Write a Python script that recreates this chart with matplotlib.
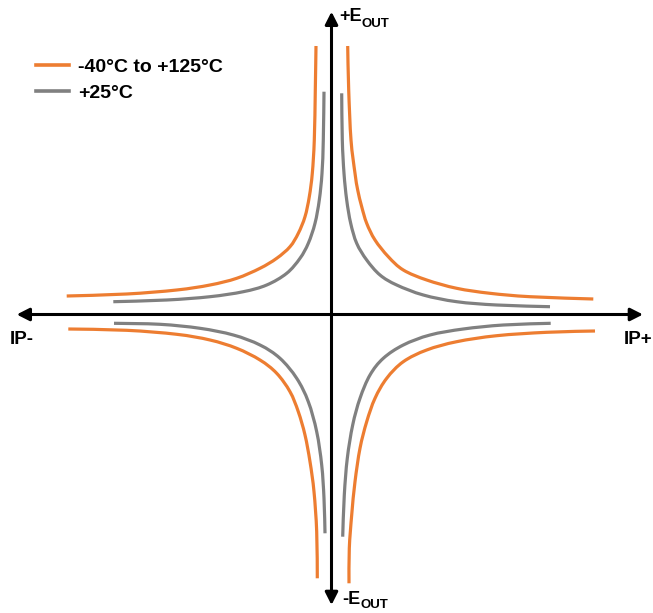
import matplotlib
matplotlib.use("Agg")
import matplotlib.pyplot as plt
from matplotlib.path import Path
from matplotlib.patches import PathPatch

plt.rcParams['font.family'] = ['Liberation Sans', 'DejaVu Sans']
plt.rcParams['font.weight'] = 'bold'

# Data (x/y in chart units, origin at the axis crossing)
orange_color = '#ED7D31'
gray_color = '#808080'
legend_labels = ['-40°C to +125°C', '+25°C']

# -40C to +125C band, one branch per quadrant
wide_q1_x = [16.2, 17.2, 19.5, 23.5, 26.2, 30.2, 35.2, 43.5, 56.8, 71.8, 95.2, 125.2, 158.5, 198.5, 261.8]
wide_q1_y = [268.5, 224.5, 174.5, 141.2, 124.5, 107.8, 91.2, 74.5, 57.8, 44.5, 34.5, 26.2, 21.2, 17.8, 15.5]
wide_q2_x = [-15.5, -16.2, -17.2, -19.2, -22.2, -26.5, -33.2, -41.5, -54.8, -71.5, -94.8, -121.5, -154.8, -204.8, -264.8]
wide_q2_y = [268.5, 224.5, 174.5, 141.2, 117.8, 97.8, 81.2, 67.8, 56.2, 46.2, 36.2, 29.5, 24.5, 20.5, 18.5]
wide_q3_x = [-263.2, -204.8, -154.8, -121.5, -94.8, -71.5, -54.8, -41.5, -33.2, -26.5, -21.5, -17.5, -14.8, -14.2]
wide_q3_y = [-14.5, -15.8, -19.8, -25.5, -33.8, -45.5, -58.8, -77.2, -97.2, -120.5, -147.2, -177.2, -217.2, -263.8]
wide_q4_x = [263.5, 215.2, 165.2, 125.2, 95.2, 71.8, 55.2, 43.5, 35.2, 28.5, 23.5, 20.2, 17.8, 17.5]
wide_q4_y = [-16.5, -17.8, -21.2, -27.2, -35.5, -47.2, -63.8, -83.8, -107.2, -133.8, -167.2, -200.5, -233.8, -268.8]

# +25C
room_q1_x = [10.2, 10.8, 12.5, 15.2, 19.2, 25.2, 35.2, 48.5, 65.2, 91.8, 125.2, 165.2, 218.5]
room_q1_y = [221.2, 174.5, 141.2, 114.5, 91.2, 71.2, 54.5, 39.5, 29.5, 19.5, 12.8, 9.5, 7.8]
room_q2_x = [-7.5, -8.2, -9.5, -12.2, -16.5, -23.2, -31.5, -44.8, -64.8, -88.2, -121.5, -164.8, -218.2]
room_q2_y = [222.8, 174.5, 141.2, 114.5, 91.2, 71.2, 56.2, 41.2, 29.5, 22.8, 17.8, 14.5, 12.8]
room_q3_x = [-217.5, -171.5, -131.5, -98.2, -71.5, -51.5, -34.8, -23.2, -14.8, -9.8, -7.5, -6.5]
room_q3_y = [-8.8, -9.8, -13.8, -20.5, -30.5, -43.8, -63.8, -87.2, -117.2, -150.5, -183.8, -218.8]
room_q4_x = [219.2, 171.8, 131.8, 98.5, 71.8, 51.8, 38.5, 28.5, 21.2, 15.8, 12.8, 11.2]
room_q4_y = [-8.8, -10.5, -14.5, -20.5, -30.5, -43.8, -60.5, -83.8, -110.5, -143.8, -180.5, -222.2]


def smooth_path(xs, ys):
    # smooth line through the points (Catmull-Rom drawn as cubic Bezier segments)
    pts = list(zip(xs, ys))
    verts = [pts[0]]
    codes = [Path.MOVETO]
    for i in range(len(pts) - 1):
        p0 = pts[max(i - 1, 0)]
        p1 = pts[i]
        p2 = pts[i + 1]
        p3 = pts[min(i + 2, len(pts) - 1)]
        c1 = (p1[0] + (p2[0] - p0[0]) / 6, p1[1] + (p2[1] - p0[1]) / 6)
        c2 = (p2[0] - (p3[0] - p1[0]) / 6, p2[1] - (p3[1] - p1[1]) / 6)
        verts += [c1, c2, p2]
        codes += [Path.CURVE4] * 3
    return Path(verts, codes)


fig = plt.figure(figsize=(6.53, 6.13), dpi=100)
ax = fig.add_axes([0, 0, 1, 1])
ax.set_xlim(-331.5, 321.5)
ax.set_ylim(-298.5, 314.5)
ax.axis('off')

# axes arrows
arrow = dict(arrowstyle='<|-|>, head_length=0.75, head_width=0.38', lw=2.2,
             color='black', mutation_scale=10, shrinkA=0, shrinkB=0)
ax.annotate('', xy=(311.5, 0), xytext=(-314.8, 0), arrowprops=arrow)
ax.annotate('', xy=(0, 302.8), xytext=(0, -290.5), arrowprops=arrow)

# curves
curve_kw = dict(lw=2.3, fill=False, capstyle='butt', joinstyle='round')
for xs, ys in [(wide_q1_x, wide_q1_y), (wide_q2_x, wide_q2_y),
               (wide_q3_x, wide_q3_y), (wide_q4_x, wide_q4_y)]:
    ax.add_patch(PathPatch(smooth_path(xs, ys), edgecolor=orange_color, **curve_kw))
for xs, ys in [(room_q1_x, room_q1_y), (room_q2_x, room_q2_y),
               (room_q3_x, room_q3_y), (room_q4_x, room_q4_y)]:
    ax.add_patch(PathPatch(smooth_path(xs, ys), edgecolor=gray_color, **curve_kw))

# legend handles (not drawn on the chart)
wide_handle, = ax.plot([], [], color=orange_color, lw=2.6)
room_handle, = ax.plot([], [], color=gray_color, lw=2.6)

# axis labels
ax.text(-321.5, -29.5, 'IP-', fontsize=13.5, fontweight='bold', va='baseline', ha='left')
ax.text(292.5, -29.5, 'IP+', fontsize=13.5, fontweight='bold', va='baseline', ha='left')

top = ax.text(7.5, 293.2, '+E', fontsize=13, fontweight='bold', va='baseline', ha='left')
ax.annotate('OUT', xy=(1, 0), xycoords=top, xytext=(0, -1.5), textcoords='offset points',
            fontsize=9.5, fontweight='bold', va='baseline', ha='left')
bot = ax.text(11.2, -290.0, '-E', fontsize=13, fontweight='bold', va='baseline', ha='left')
ax.annotate('OUT', xy=(1, 0), xycoords=bot, xytext=(0, 0), textcoords='offset points',
            fontsize=9.5, fontweight='bold', va='baseline', ha='left')

# legend
ax.legend([wide_handle, room_handle], legend_labels, loc='upper left',
          bbox_to_anchor=(-295.5, 256.0), bbox_transform=ax.transData,
          frameon=False, prop={'size': 14, 'weight': 'bold'},
          handlelength=1.7, handletextpad=0.45, labelspacing=0.41,
          borderpad=0, borderaxespad=0)

fig.savefig('out.png', dpi=100)
